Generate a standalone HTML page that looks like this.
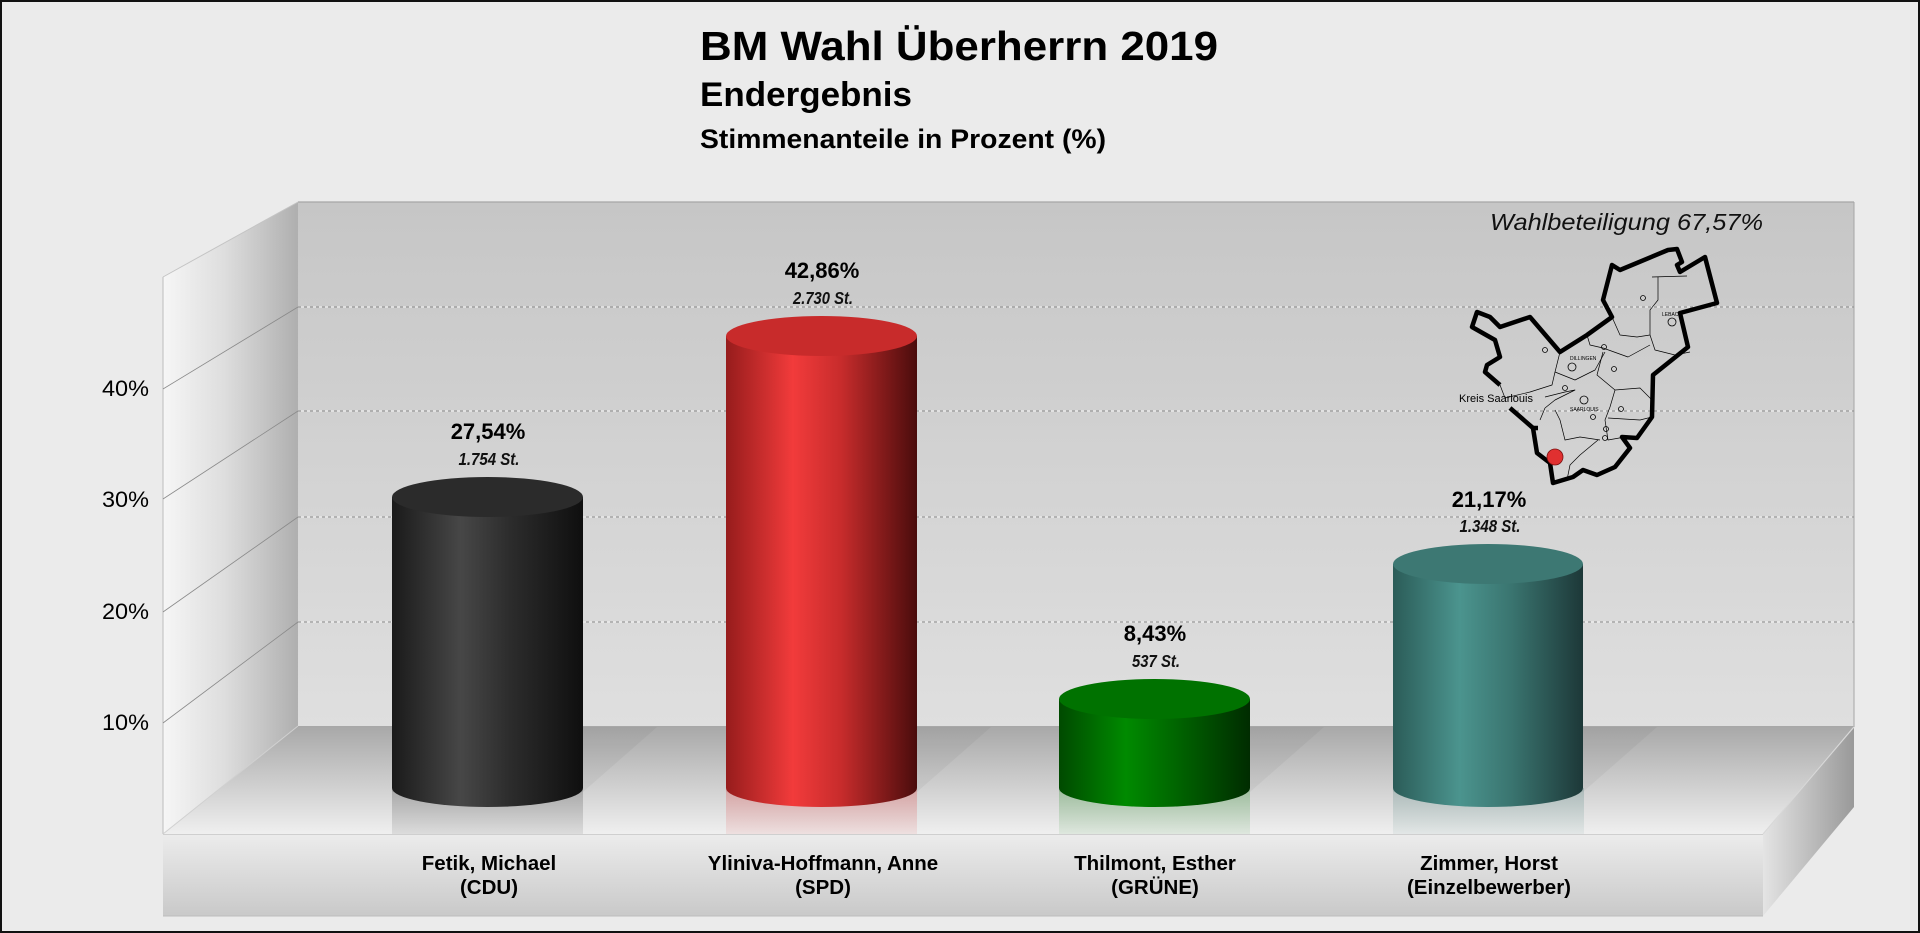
<!DOCTYPE html>
<html><head><meta charset="utf-8"><style>
html,body{margin:0;padding:0;background:#ebebeb;}
svg{display:block;}
text{font-family:"Liberation Sans",Arial,sans-serif;}
</style></head><body>
<svg width="1920" height="933" viewBox="0 0 1920 933" xmlns="http://www.w3.org/2000/svg">
<defs>
<linearGradient id="gBack" x1="0" y1="0" x2="0" y2="1"><stop offset="0" stop-color="#c6c6c6"/><stop offset="1" stop-color="#dfdfdf"/></linearGradient>
<linearGradient id="gLeft" x1="0" y1="0" x2="1" y2="0"><stop offset="0" stop-color="#f6f6f6"/><stop offset="0.45" stop-color="#dedede"/><stop offset="1" stop-color="#afafaf"/></linearGradient>
<linearGradient id="gFloor" x1="0" y1="0" x2="0" y2="1"><stop offset="0" stop-color="#a8a8a8"/><stop offset="1" stop-color="#efefef"/></linearGradient>
<linearGradient id="gFront" x1="0" y1="0" x2="0" y2="1"><stop offset="0" stop-color="#ececec"/><stop offset="1" stop-color="#c9c9c9"/></linearGradient>
<linearGradient id="gRight" x1="0" y1="0" x2="1" y2="0"><stop offset="0" stop-color="#e4e4e4"/><stop offset="1" stop-color="#999999"/></linearGradient>

<linearGradient id="bBlk" x1="0" y1="0" x2="1" y2="0"><stop offset="0" stop-color="#1a1a1a"/><stop offset="0.36" stop-color="#474747"/><stop offset="0.62" stop-color="#2c2c2c"/><stop offset="1" stop-color="#0f0f0f"/></linearGradient>
<linearGradient id="bRed" x1="0" y1="0" x2="1" y2="0"><stop offset="0" stop-color="#961c1c"/><stop offset="0.35" stop-color="#f23b3b"/><stop offset="0.6" stop-color="#c82c2c"/><stop offset="1" stop-color="#4a0c0c"/></linearGradient>
<linearGradient id="bGrn" x1="0" y1="0" x2="1" y2="0"><stop offset="0" stop-color="#004a00"/><stop offset="0.35" stop-color="#008a00"/><stop offset="0.62" stop-color="#006400"/><stop offset="1" stop-color="#002c00"/></linearGradient>
<linearGradient id="bTeal" x1="0" y1="0" x2="1" y2="0"><stop offset="0" stop-color="#2b5c58"/><stop offset="0.35" stop-color="#4b948e"/><stop offset="0.62" stop-color="#3a7570"/><stop offset="1" stop-color="#1d3838"/></linearGradient>

<linearGradient id="rBlk" x1="0" y1="0" x2="0" y2="1"><stop offset="0" stop-color="#000" stop-opacity="0.2"/><stop offset="1" stop-color="#000" stop-opacity="0.08"/></linearGradient>
<linearGradient id="rRed" x1="0" y1="0" x2="0" y2="1"><stop offset="0" stop-color="#e03030" stop-opacity="0.28"/><stop offset="1" stop-color="#e03030" stop-opacity="0.08"/></linearGradient>
<linearGradient id="rGrn" x1="0" y1="0" x2="0" y2="1"><stop offset="0" stop-color="#008000" stop-opacity="0.25"/><stop offset="1" stop-color="#008000" stop-opacity="0.07"/></linearGradient>
<linearGradient id="rTeal" x1="0" y1="0" x2="0" y2="1"><stop offset="0" stop-color="#3d7873" stop-opacity="0.25"/><stop offset="1" stop-color="#3d7873" stop-opacity="0.07"/></linearGradient>
</defs>

<rect x="0" y="0" width="1920" height="933" fill="#ebebeb"/>

<!-- back wall -->
<rect x="298" y="202" width="1556" height="524" fill="url(#gBack)"/>
<line x1="298" y1="202" x2="1854" y2="202" stroke="#a6a6a6" stroke-width="1.2"/>
<line x1="1854" y1="202" x2="1854" y2="727" stroke="#a6a6a6" stroke-width="1"/>

<!-- gridlines back -->
<g>
<line x1="298" y1="307" x2="1854" y2="307" stroke="#f4f4f4" stroke-width="1"/>
<line x1="298" y1="307" x2="1854" y2="307" stroke="#8e8e8e" stroke-width="1" stroke-dasharray="3 3"/>
<line x1="298" y1="411" x2="1854" y2="411" stroke="#f4f4f4" stroke-width="1"/>
<line x1="298" y1="411" x2="1854" y2="411" stroke="#8e8e8e" stroke-width="1" stroke-dasharray="3 3"/>
<line x1="298" y1="517" x2="1854" y2="517" stroke="#f4f4f4" stroke-width="1"/>
<line x1="298" y1="517" x2="1854" y2="517" stroke="#8e8e8e" stroke-width="1" stroke-dasharray="3 3"/>
<line x1="298" y1="622" x2="1854" y2="622" stroke="#f4f4f4" stroke-width="1"/>
<line x1="298" y1="622" x2="1854" y2="622" stroke="#8e8e8e" stroke-width="1" stroke-dasharray="3 3"/>
</g>

<!-- left wall -->
<polygon points="163,277 298,202 298,726 163,834" fill="url(#gLeft)"/>
<line x1="163" y1="277" x2="298" y2="202" stroke="#c4c4c4" stroke-width="1"/>
<line x1="163" y1="277" x2="163" y2="834" stroke="#bcbcbc" stroke-width="1"/>
<g stroke="#8a8a8a" stroke-width="0.8">
<line x1="163" y1="389" x2="298" y2="307"/>
<line x1="163" y1="499" x2="298" y2="411"/>
<line x1="163" y1="612" x2="298" y2="517"/>
<line x1="163" y1="723" x2="298" y2="622"/>
</g>

<!-- floor -->
<polygon points="163,834 298,726 1854,726 1763,834" fill="url(#gFloor)"/>
<line x1="163" y1="834" x2="298" y2="726" stroke="#d0d0d0" stroke-width="1"/>

<!-- bar shadows on floor -->
<g fill="#000" fill-opacity="0.04">
<polygon points="392,727 657,727 583,792 392,792"/>
<polygon points="726,727 991,727 917,792 726,792"/>
<polygon points="1059,727 1324,727 1250,792 1059,792"/>
<polygon points="1393,727 1657,727 1583,792 1393,792"/>
</g>

<!-- reflections -->
<rect x="392" y="788" width="191" height="46" fill="url(#rBlk)"/>
<rect x="726" y="788" width="191" height="46" fill="url(#rRed)"/>
<rect x="1059" y="788" width="191" height="46" fill="url(#rGrn)"/>
<rect x="1393" y="788" width="191" height="46" fill="url(#rTeal)"/>

<!-- front plate -->
<rect x="163" y="834" width="1600" height="82" fill="url(#gFront)"/>
<line x1="163" y1="834.5" x2="1763" y2="834.5" stroke="#cfcfcf" stroke-width="1"/>
<line x1="163" y1="916" x2="1763" y2="916" stroke="#bdbdbd" stroke-width="1"/>
<polygon points="1763,834 1854,727 1854,807 1763,916" fill="url(#gRight)"/>
<line x1="1763" y1="834" x2="1854" y2="727" stroke="#d8d8d8" stroke-width="1"/>

<!-- bars -->
<path d="M392,497 L392,788 A95.5,19 0 0 0 583,788 L583,497 Z" fill="url(#bBlk)"/>
<ellipse cx="487.5" cy="497" rx="95.5" ry="20" fill="#2b2b2b"/>
<path d="M726,336 L726,788 A95.5,19 0 0 0 917,788 L917,336 Z" fill="url(#bRed)"/>
<ellipse cx="821.5" cy="336" rx="95.5" ry="20" fill="#c82b2b"/>
<path d="M1059,699 L1059,788 A95.5,19 0 0 0 1250,788 L1250,699 Z" fill="url(#bGrn)"/>
<ellipse cx="1154.5" cy="699" rx="95.5" ry="20" fill="#007200"/>
<path d="M1393,564 L1393,788 A95,19 0 0 0 1583,788 L1583,564 Z" fill="url(#bTeal)"/>
<ellipse cx="1488" cy="564" rx="95" ry="20" fill="#3d7873"/>

<!-- value labels -->
<g font-weight="bold" font-size="22" text-anchor="middle" fill="#000">
<text x="488" y="439">27,54%</text>
<text x="822" y="278">42,86%</text>
<text x="1155" y="641">8,43%</text>
<text x="1489" y="507">21,17%</text>
</g>
<g font-style="italic" font-weight="bold" font-size="17.5" text-anchor="middle" fill="#111">
<text x="489" y="465" textLength="61" lengthAdjust="spacingAndGlyphs">1.754 St.</text>
<text x="823" y="304" textLength="60" lengthAdjust="spacingAndGlyphs">2.730 St.</text>
<text x="1156" y="667" textLength="48" lengthAdjust="spacingAndGlyphs">537 St.</text>
<text x="1490" y="532" textLength="61" lengthAdjust="spacingAndGlyphs">1.348 St.</text>
</g>

<!-- category labels -->
<g font-weight="bold" font-size="20.5" text-anchor="middle" fill="#000">
<text x="489" y="870">Fetik, Michael</text>
<text x="489" y="894">(CDU)</text>
<text x="823" y="870">Yliniva-Hoffmann, Anne</text>
<text x="823" y="894">(SPD)</text>
<text x="1155" y="870">Thilmont, Esther</text>
<text x="1155" y="894">(GRÜNE)</text>
<text x="1489" y="870">Zimmer, Horst</text>
<text x="1489" y="894">(Einzelbewerber)</text>
</g>

<!-- y axis labels -->
<g font-size="22" text-anchor="end" fill="#000">
<text x="149" y="396" textLength="47" lengthAdjust="spacingAndGlyphs">40%</text>
<text x="149" y="507" textLength="47" lengthAdjust="spacingAndGlyphs">30%</text>
<text x="149" y="619" textLength="47" lengthAdjust="spacingAndGlyphs">20%</text>
<text x="149" y="730" textLength="47" lengthAdjust="spacingAndGlyphs">10%</text>
</g>

<!-- titles -->
<text x="700" y="60" font-size="41" font-weight="bold" textLength="518" lengthAdjust="spacingAndGlyphs">BM Wahl Überherrn 2019</text>
<text x="700" y="106" font-size="34" font-weight="bold" textLength="212" lengthAdjust="spacingAndGlyphs">Endergebnis</text>
<text x="700" y="148" font-size="27" font-weight="bold" textLength="406" lengthAdjust="spacingAndGlyphs">Stimmenanteile in Prozent (%)</text>

<!-- Wahlbeteiligung -->
<text x="1490" y="230" font-size="23" font-style="italic" fill="#111" textLength="273" lengthAdjust="spacingAndGlyphs">Wahlbeteiligung 67,57%</text>

<!-- map -->
<g fill="none" stroke="#000" stroke-linejoin="round">
<path stroke-width="4.5" d="M1538,428 L1533,428 L1537,453 L1550,463 L1553,483 L1573,477 L1583,470 L1597,475 L1615,467 L1630,448 L1622,437 L1637,438 L1652,417 L1653,375 L1688,347 L1680,313 L1717,303 L1705,257 L1680,272 L1677,265 L1682,262 L1677,249 L1668,250 L1620,270 L1612,265 L1603,300 L1612,317 L1587,335 L1560,352 L1530,317 L1500,327 L1490,317 L1477,312 L1472,327 L1495,340 L1500,357 L1487,365 L1485,372 L1500,385"/>
<path stroke-width="4.5" d="M1533,428 L1510,408"/>
<g stroke-width="0.7">
<polyline points="1652,277 1687,276"/>
<polyline points="1658,277 1658,300 1650,310 1650,335 1637,337 1620,335 1612,317"/>
<polyline points="1650,335 1655,350 1675,355 1690,352"/>
<polyline points="1587,335 1590,345 1603,348 1628,357 1650,345"/>
<polyline points="1560,352 1555,372 1552,385 1530,392 1505,398 1500,385"/>
<polyline points="1555,372 1575,380 1595,370 1605,352"/>
<polyline points="1603,352 1597,375 1615,390 1640,388 1652,400"/>
<polyline points="1615,390 1610,407 1605,420 1608,440 1625,437"/>
<polyline points="1608,418 1640,420 1652,417"/>
<polyline points="1545,397 1565,392 1575,390 1555,400 1545,408"/>
<polyline points="1555,410 1560,420 1565,440 1580,437 1600,440"/>
<polyline points="1598,440 1580,455 1570,465 1567,480"/>
<polyline points="1545,408 1540,420"/>
</g>
<g stroke-width="0.8" fill="none">
<circle cx="1672" cy="322" r="4"/>
<circle cx="1572" cy="367" r="4"/>
<circle cx="1584" cy="400" r="4"/>
<circle cx="1545" cy="350" r="2.5"/>
<circle cx="1604" cy="347" r="2.5"/>
<circle cx="1643" cy="298" r="2.5"/>
<circle cx="1614" cy="369" r="2.5"/>
<circle cx="1565" cy="388" r="2.5"/>
<circle cx="1621" cy="409" r="2.5"/>
<circle cx="1593" cy="417" r="2.5"/>
<circle cx="1606" cy="429" r="2.5"/>
<circle cx="1605" cy="438" r="2.5"/>
</g>
</g>
<g font-size="5" fill="#000">
<text x="1570" y="360">DILLINGEN</text>
<text x="1570" y="411">SAARLOUIS</text>
<text x="1662" y="316">LEBACH</text>
</g>
<text x="1459" y="402" font-size="11" fill="#000" textLength="74" lengthAdjust="spacingAndGlyphs">Kreis  Saarlouis</text>
<circle cx="1555" cy="457" r="8" fill="#e03030" stroke="#7a1010" stroke-width="0.8"/>

<!-- outer border -->
<rect x="1" y="1" width="1918" height="931" fill="none" stroke="#111" stroke-width="2"/>
</svg>
</body></html>
